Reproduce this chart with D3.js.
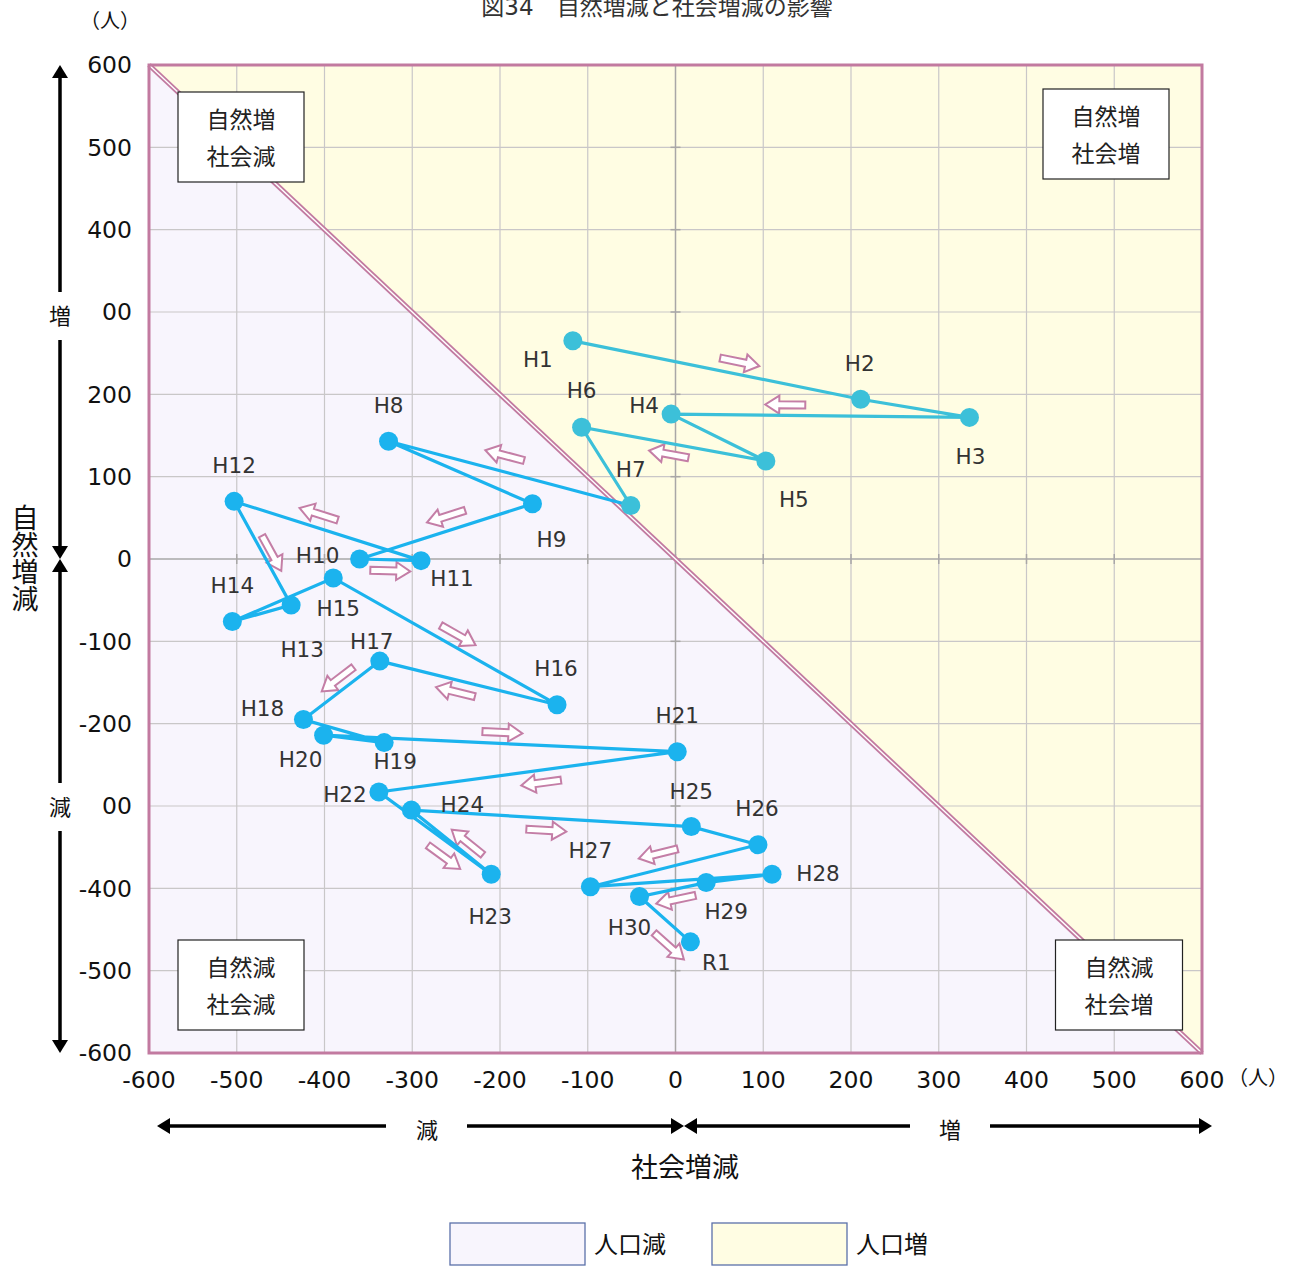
<!DOCTYPE html>
<html>
<head>
<meta charset="utf-8">
<script src="https://cdn.jsdelivr.net/npm/d3@7.9.0/dist/d3.min.js"></script>
<style>
  body { margin: 0; background: #fff; }
  svg { display: block; font-family: "DejaVu Sans", "Noto Sans CJK JP", sans-serif; }
  .cjk { font-family: "Noto Sans CJK JP", sans-serif; }
</style>
</head>
<body>
<div id="chart"></div>
<script>
// 年次ラベル
const years = ['H1','H2','H3','H4','H5','H6','H7','H8','H9','H10','H11','H12','H13','H14','H15',
  'H16','H17','H18','H19','H20','H21','H22','H23','H24','H25','H26','H27','H28','H29','H30','R1'];
// 社会増減 (x)
const social = [-117, 211, 335, -5, 103, -107, -51, -327, -163, -360, -290, -503, -438, -505, -390,
  -135, -337, -424, -332, -401, 2, -338, -210, -301, 18, 94, -97, 110, 35, -41, 17];
// 自然増減 (y)
const natural = [265, 194, 172, 176, 119, 160, 65, 143, 67, 0, -2, 70, -56, -76, -23,
  -177, -124, -195, -223, -214, -234, -283, -383, -305, -325, -347, -398, -383, -393, -410, -465];
const xTicks = [-600, -500, -400, -300, -200, -100, 0, 100, 200, 300, 400, 500, 600];
const yTicks = [-600, -500, -400, -300, -200, -100, 0, 100, 200, 300, 400, 500, 600];
const legendItems = ['人口減', '人口増'];

// label offsets (px) from each point
const labelOff = {
  H1:[-35,18], H2:[-1,-36], H3:[1,39], H4:[-27,-9], H5:[28,38], H6:[0,-37], H7:[0,-36],
  H8:[0,-36], H9:[19,35], H10:[-42,-4], H11:[31,18], H12:[0,-36], H13:[11,44], H14:[0,-36],
  H15:[5,30], H16:[-1,-36], H17:[-8,-20], H18:[-41,-11], H19:[11,19], H20:[-23,24], H21:[0,-36],
  H22:[-34,2], H23:[-1,42], H24:[51,-6], H25:[0,-35], H26:[-1,-36], H27:[0,-36], H28:[46,-1],
  H29:[20,29], H30:[-10,31], R1:[26,20]
};
// direction arrows: from, to, pixel offset from segment midpoint
const arrowMarks = [
  ['H1','H2',23,-8], ['H3','H4',-35,-11], ['H5','H6',-5,10], ['H7','H8',-5,-18],
  ['H9','H10',0,-15], ['H10','H11',0,11], ['H11','H12',-9,-17], ['H12','H13',9,0],
  ['H15','H16',13,-6], ['H16','H17',-13,9], ['H17','H18',-4,-11], ['H20','H21',2,-11],
  ['H21','H22',13,11], ['H22','H23',9,24], ['H23','H24',16,0], ['H24','H25',-5,12],
  ['H26','H27',-16,-12], ['H29','H30',3,10], ['H30','R1',4,27]
];

const W = 1298, H = 1266;
const svg = d3.select('#chart').append('svg').attr('width', W).attr('height', H);
const x = d3.scaleLinear().domain([-600, 600]).range([149, 1202]);
const y = d3.scaleLinear().domain([-600, 600]).range([1053, 65]);

const pinkLine = '#c27aa0', teal = '#3cc0d9', blue = '#1bb3ee', txt = '#333';
const pts = years.map((k, i) => ({ k, i, px: x(social[i]), py: y(natural[i]) }));
const byKey = Object.fromEntries(pts.map(p => [p.k, p]));

// background regions
svg.append('rect').attr('x', x(-600)).attr('y', y(600)).attr('width', x(600) - x(-600))
  .attr('height', y(-600) - y(600)).attr('fill', '#fffde3');
svg.append('path')
  .attr('d', `M${x(-600)},${y(600)}L${x(600)},${y(-600)}L${x(-600)},${y(-600)}Z`)
  .attr('fill', '#f8f5fd');

// grid
const g = svg.append('g');
g.selectAll('line.gx').data(xTicks.filter(t => t !== 0 && Math.abs(t) < 600)).enter().append('line')
  .attr('x1', d => x(d)).attr('x2', d => x(d)).attr('y1', y(600)).attr('y2', y(-600))
  .attr('stroke', '#c9c7c8').attr('stroke-width', 1.2);
g.selectAll('line.gy').data(yTicks.filter(t => t !== 0 && Math.abs(t) < 600)).enter().append('line')
  .attr('y1', d => y(d)).attr('y2', d => y(d)).attr('x1', x(-600)).attr('x2', x(600))
  .attr('stroke', '#c9c7c8').attr('stroke-width', 1.2);
// zero axes with small ticks
g.append('line').attr('x1', x(0)).attr('x2', x(0)).attr('y1', y(600)).attr('y2', y(-600))
  .attr('stroke', '#a9a7a7').attr('stroke-width', 1.5);
g.append('line').attr('y1', y(0)).attr('y2', y(0)).attr('x1', x(-600)).attr('x2', x(600))
  .attr('stroke', '#a9a7a7').attr('stroke-width', 1.5);
g.selectAll('line.tx').data(xTicks).enter().append('line')
  .attr('x1', d => x(d)).attr('x2', d => x(d)).attr('y1', y(0) - 5).attr('y2', y(0) + 5)
  .attr('stroke', '#a9a7a7').attr('stroke-width', 1.5);
g.selectAll('line.ty').data(yTicks).enter().append('line')
  .attr('y1', d => y(d)).attr('y2', d => y(d)).attr('x1', x(0) - 5).attr('x2', x(0) + 5)
  .attr('stroke', '#a9a7a7').attr('stroke-width', 1.5);

// diagonal double line
svg.append('line').attr('x1', x(-600)).attr('y1', y(600)).attr('x2', x(600)).attr('y2', y(-600))
  .attr('stroke', pinkLine).attr('stroke-width', 5);
svg.append('line').attr('x1', x(-600)).attr('y1', y(600)).attr('x2', x(600)).attr('y2', y(-600))
  .attr('stroke', '#fff').attr('stroke-width', 1.4);

// frame
svg.append('rect').attr('x', x(-600)).attr('y', y(600)).attr('width', x(600) - x(-600))
  .attr('height', y(-600) - y(600)).attr('fill', 'none').attr('stroke', pinkLine).attr('stroke-width', 3);

// quadrant boxes
const quads = [
  { lines: ['自然増', '社会減'], cx: 241, cy: 137, w: 126 },
  { lines: ['自然増', '社会増'], cx: 1106, cy: 134, w: 126 },
  { lines: ['自然減', '社会減'], cx: 241, cy: 985, w: 126 },
  { lines: ['自然減', '社会増'], cx: 1119, cy: 985, w: 127 }
];
const qg = svg.selectAll('g.quad').data(quads).enter().append('g');
qg.append('rect').attr('x', d => d.cx - d.w / 2).attr('y', d => d.cy - 45).attr('width', d => d.w)
  .attr('height', 90).attr('fill', '#fff').attr('stroke', '#222').attr('stroke-width', 1.2);
qg.each(function (d) {
  d3.select(this).selectAll('text').data(d.lines).enter().append('text').attr('class', 'cjk')
    .attr('x', d.cx).attr('y', (l, i) => d.cy - 17 + i * 37).attr('dy', '0.35em')
    .attr('text-anchor', 'middle').attr('font-size', 23).attr('fill', '#222').text(l => l);
});

// arrows
const arrowPath = 'M-20,-3.5L6,-3.5L6,-9L20,0L6,9L6,3.5L-20,3.5Z';
svg.selectAll('path.arr').data(arrowMarks).enter().append('path')
  .attr('d', arrowPath)
  .attr('transform', d => {
    const a = byKey[d[0]], b = byKey[d[1]];
    const ang = Math.atan2(b.py - a.py, b.px - a.px) * 180 / Math.PI;
    return `translate(${(a.px + b.px) / 2 + d[2]},${(a.py + b.py) / 2 + d[3]}) rotate(${ang})`;
  })
  .attr('fill', '#fff').attr('stroke', '#c47ea6').attr('stroke-width', 2);

// lines
const line = d3.line().x(d => d.px).y(d => d.py);
svg.append('path').datum(pts.slice(6)).attr('d', line).attr('fill', 'none')
  .attr('stroke', blue).attr('stroke-width', 3.2);
svg.append('path').datum(pts.slice(0, 7)).attr('d', line).attr('fill', 'none')
  .attr('stroke', teal).attr('stroke-width', 3.2);

// markers
svg.selectAll('circle.pt').data(pts).enter().append('circle')
  .attr('cx', d => d.px).attr('cy', d => d.py).attr('r', 9.5)
  .attr('fill', d => d.i < 7 ? teal : blue);

// point labels
svg.selectAll('text.lab').data(pts).enter().append('text')
  .attr('x', d => d.px + labelOff[d.k][0]).attr('y', d => d.py + labelOff[d.k][1])
  .attr('dy', '0.36em').attr('text-anchor', 'middle').attr('font-size', 21.5)
  .attr('fill', txt).text(d => d.k);

// tick labels
svg.selectAll('text.xt').data(xTicks).enter().append('text')
  .attr('x', d => x(d)).attr('y', 1080).attr('dy', '0.36em').attr('text-anchor', 'middle')
  .attr('font-size', 23.5).attr('fill', '#111').text(d => d);
svg.selectAll('text.yt').data(yTicks).enter().append('text')
  .attr('x', 132).attr('y', d => y(d)).attr('dy', '0.36em').attr('text-anchor', 'end')
  .attr('font-size', 23.5).attr('fill', '#111').text(d => d);
svg.append('text').attr('class', 'cjk').attr('x', 110).attr('y', 21).attr('dy', '0.35em')
  .attr('text-anchor', 'middle').attr('font-size', 20).attr('fill', '#111').text('（人）');
svg.append('text').attr('class', 'cjk').attr('x', 1258).attr('y', 1078).attr('dy', '0.35em')
  .attr('text-anchor', 'middle').attr('font-size', 20).attr('fill', '#111').text('（人）');

// title (top is clipped in the original too)
svg.append('text').attr('x', 657).attr('y', 15).attr('text-anchor', 'middle')
  .attr('font-size', 23).attr('fill', txt).text('図34　自然増減と社会増減の影響');

// vertical axis arrow
function arrowHead(sel, cx, cy, dir) {
  const s = 8, l = 13;
  const p = {
    up: [[cx, cy], [cx - s, cy + l], [cx + s, cy + l]],
    down: [[cx, cy], [cx - s, cy - l], [cx + s, cy - l]],
    left: [[cx, cy], [cx + l, cy - s], [cx + l, cy + s]],
    right: [[cx, cy], [cx - l, cy - s], [cx - l, cy + s]]
  }[dir];
  sel.append('path').attr('d', 'M' + p.join('L') + 'Z').attr('fill', '#000');
}
const ax = svg.append('g');
const vx = 60;
ax.append('line').attr('x1', vx).attr('x2', vx).attr('y1', y(600) + 8).attr('y2', y(0) - 8)
  .attr('stroke', '#000').attr('stroke-width', 3.5);
ax.append('line').attr('x1', vx).attr('x2', vx).attr('y1', y(0) + 8).attr('y2', y(-600) - 8)
  .attr('stroke', '#000').attr('stroke-width', 3.5);
arrowHead(ax, vx, y(600), 'up');
arrowHead(ax, vx, y(0), 'down');
arrowHead(ax, vx, y(0), 'up');
arrowHead(ax, vx, y(-600), 'down');
[['増', 316], ['減', 807]].forEach(([t, cy]) => {
  ax.append('rect').attr('x', 38).attr('y', cy - 24).attr('width', 65).attr('height', 48).attr('fill', '#fff');
  ax.append('text').attr('class', 'cjk').attr('x', vx).attr('y', cy).attr('dy', '0.35em')
    .attr('text-anchor', 'middle').attr('font-size', 22).attr('fill', '#111').text(t);
});
svg.append('text').attr('class', 'cjk').attr('x', 25).attr('y', 558)
  .style('writing-mode', 'vertical-rl').style('text-orientation', 'upright')
  .attr('text-anchor', 'middle').attr('font-size', 27).attr('fill', '#111').text('自然増減');

// horizontal axis arrows
const hy = 1126, hx0 = 157, hxm = 684, hx1 = 1212;
ax.append('line').attr('x1', hx0 + 8).attr('x2', hxm - 8).attr('y1', hy).attr('y2', hy)
  .attr('stroke', '#000').attr('stroke-width', 3.5);
ax.append('line').attr('x1', hxm + 8).attr('x2', hx1 - 8).attr('y1', hy).attr('y2', hy)
  .attr('stroke', '#000').attr('stroke-width', 3.5);
arrowHead(ax, hx0, hy, 'left');
arrowHead(ax, hxm, hy, 'right');
arrowHead(ax, hxm, hy, 'left');
arrowHead(ax, hx1, hy, 'right');
[['減', 427, 386, 467], ['増', 950, 910, 990]].forEach(([t, cx, a, b]) => {
  ax.append('rect').attr('x', a).attr('y', hy - 20).attr('width', b - a).attr('height', 40).attr('fill', '#fff');
  ax.append('text').attr('class', 'cjk').attr('x', cx).attr('y', hy + 4).attr('dy', '0.35em')
    .attr('text-anchor', 'middle').attr('font-size', 22).attr('fill', '#111').text(t);
});
svg.append('text').attr('class', 'cjk').attr('x', 685).attr('y', 1168).attr('dy', '0.35em')
  .attr('text-anchor', 'middle').attr('font-size', 27).attr('fill', '#111').text('社会増減');

// legend
const lg = svg.selectAll('g.leg').data(legendItems).enter().append('g')
  .attr('transform', (d, i) => `translate(${450 + i * 262},1223)`);
lg.append('rect').attr('width', 135).attr('height', 42)
  .attr('fill', (d, i) => i === 0 ? '#f8f5fd' : '#fffde3')
  .attr('stroke', '#5b70aa').attr('stroke-width', 1.3);
lg.append('text').attr('class', 'cjk').attr('x', 144).attr('y', 22).attr('dy', '0.35em')
  .attr('font-size', 24).attr('fill', '#111').text(d => d);
</script>
</body>
</html>
